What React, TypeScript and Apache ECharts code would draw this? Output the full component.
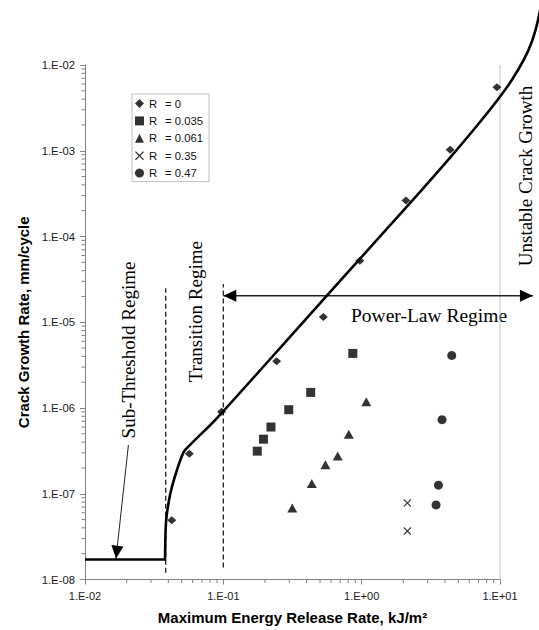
import React, { useEffect, useRef } from 'react';
import * as echarts from 'echarts';

// ---- data ----
const r0X = [0.0424, 0.0568, 0.097, 0.243, 0.528, 0.97, 2.09, 4.36, 9.5];
const r0Y = [4.9e-8, 2.92e-7, 9.06e-7, 3.5e-6, 1.15e-5, 5.2e-5, 2.63e-4, 1.03e-3, 5.5e-3];
const r035X = [0.176, 0.195, 0.221, 0.297, 0.428, 0.863];
const r035Y = [3.14e-7, 4.33e-7, 6.0e-7, 9.55e-7, 1.52e-6, 4.33e-6];
const r061X = [0.315, 0.436, 0.547, 0.671, 0.807, 1.08];
const r061Y = [6.8e-8, 1.32e-7, 2.18e-7, 2.75e-7, 4.94e-7, 1.18e-6];
const r35X = [2.14, 2.14];
const r35Y = [7.8e-8, 3.67e-8];
const r47X = [4.48, 3.81, 3.59, 3.45];
const r47Y = [4.1e-6, 7.3e-7, 1.26e-7, 7.4e-8];

const legendNames = ['0', '0.035', '0.061', '0.35', '0.47'];

// fitted curve
const flatX = [0.01, 0.0379];
const flatY = [1.71e-8, 1.71e-8];
const fitX = [0.0379, 0.0383, 0.039, 0.0412, 0.0447, 0.05, 0.0528, 0.0896, 0.3587, 1.519, 2.644, 4.357, 6.607, 9.53, 12.24, 14.94, 16.79, 18.24, 19.17, 19.83];
const fitY = [1.71e-8, 4.0e-8, 5.72e-8, 9.76e-8, 1.6e-7, 2.72e-7, 3.22e-7, 7.57e-7, 9.16e-6, 1.225e-4, 3.32e-4, 8.31e-4, 1.844e-3, 3.86e-3, 6.77e-3, 1.168e-2, 1.78e-2, 2.71e-2, 3.83e-2, 5.14e-2];

// regime boundaries (dashed)
const dash1X = [0.0383, 0.0383];
const dash1Y = [1.2e-8, 2.5e-5];
const dash2X = [0.1, 0.1];
const dash2Y = [1.38e-8, 2.8e-5];

// arrows [x1, y1, x2, y2]
const powerLawArrow = [0.1, 2.04e-5, 17.3, 2.04e-5];
const subThresholdArrow = [0.0206, 3.7e-7, 0.01675, 1.75e-8];

// axis ticks
const xMin = 0.01, xMax = 10, yMin = 1e-8, yMax = 1e-2;
const xDecades = [0.01, 0.1, 1];
const yDecades = [1e-8, 1e-7, 1e-6, 1e-5, 1e-4, 1e-3];
const minorMult = [2, 3, 4, 5, 6, 7, 8, 9];

const AXIS_COLOR = '#808080';
const SANS = '"Liberation Sans", Arial, sans-serif';
const SERIF = '"Liberation Serif", "Times New Roman", serif';

const crossPath = 'path://M0,1L1,0L5,4L9,0L10,1L6,5L10,9L9,10L5,6L1,10L0,9L4,5Z';

function zip(xs: number[], ys: number[]) {
  return xs.map((x, i) => [x, ys[i]]);
}

function fmtExp(v: number) {
  const e = Math.round(Math.log10(v));
  const s = e < 0 ? '-' : '+';
  const a = Math.abs(e);
  return '1.E' + s + (a < 10 ? '0' + a : String(a));
}

function head(tip: number[], from: number[], L: number, W: number) {
  const dx = tip[0] - from[0];
  const dy = tip[1] - from[1];
  const len = Math.hypot(dx, dy) || 1;
  const ux = dx / len, uy = dy / len;
  const bx = tip[0] - ux * L, by = tip[1] - uy * L;
  const nx = -uy, ny = ux;
  return {
    type: 'polygon',
    shape: { points: [[tip[0], tip[1]], [bx + nx * W, by + ny * W], [bx - nx * W, by - ny * W]] },
    style: { fill: '#000' },
  };
}

export default function App() {
  const ref = useRef<HTMLDivElement>(null);
  useEffect(() => {
    if (!ref.current) return;
    const chart = echarts.init(ref.current, undefined, { renderer: 'svg' });

    const yMinor: number[][] = [];
    yDecades.forEach((d) => minorMult.forEach((k) => yMinor.push([xMin, k * d])));
    const xMinor: number[][] = [];
    xDecades.forEach((d) => minorMult.forEach((k) => xMinor.push([k * d, yMin])));

    const scatterBase = (name: string, data: number[][], symbol: string, size: any) => ({
      type: 'scatter',
      name,
      data,
      symbol,
      symbolSize: size,
      itemStyle: { color: '#000' },
      z: 5,
    });

    const option: any = {
      animation: false,
      backgroundColor: '#fff',
      grid: { left: 85, right: 39, top: 65, bottom: 48, containLabel: false },
      legend: {
        data: legendNames.map((n) => 'R = ' + n),
        orient: 'vertical',
        left: 132,
        top: 94,
        padding: [4, 6, 3, 3],
        itemWidth: 9,
        itemHeight: 9,
        itemGap: 6.4,
        borderColor: '#c0c0c0',
        borderWidth: 1,
        backgroundColor: '#fff',
        formatter: (name: string) => '{r|R}{v|' + name.replace('R ', '') + '}',
        textStyle: {
          fontFamily: SANS,
          fontSize: 11.3,
          color: '#111',
          rich: {
            r: { width: 16, fontFamily: SANS, fontSize: 11.3, color: '#111' },
            v: { fontFamily: SANS, fontSize: 11.3, color: '#111' },
          },
        },
      },
      xAxis: {
        type: 'log',
        logBase: 10,
        min: xMin,
        max: xMax,
        splitNumber: 3,
        name: 'Maximum Energy Release Rate, kJ/m²',
        nameLocation: 'middle',
        nameGap: 30.5,
        nameTextStyle: { fontFamily: SANS, fontWeight: 'bold', fontSize: 15, color: '#000' },
        axisLine: { lineStyle: { color: AXIS_COLOR, width: 1 } },
        axisTick: { show: true, length: 5, lineStyle: { color: AXIS_COLOR } },
        splitLine: { show: false },
        axisLabel: { formatter: fmtExp, fontFamily: SANS, fontSize: 11, color: '#1a1a1a', margin: 11 },
      },
      yAxis: {
        type: 'log',
        logBase: 10,
        min: yMin,
        max: yMax,
        splitNumber: 6,
        name: 'Crack Growth Rate, mm/cycle',
        nameLocation: 'middle',
        nameGap: 42,
        nameTextStyle: { fontFamily: SANS, fontWeight: 'bold', fontSize: 15, color: '#000' },
        axisLine: { lineStyle: { color: AXIS_COLOR, width: 1 } },
        axisTick: { show: true, length: 5, lineStyle: { color: AXIS_COLOR } },
        splitLine: { show: false },
        axisLabel: { formatter: fmtExp, fontFamily: SANS, fontSize: 11.3, color: '#1a1a1a', margin: 10 },
      },
      graphic: [
        {
          type: 'text', x: 128.5, y: 350, rotation: Math.PI / 2,
          style: { text: 'Sub-Threshold Regime', fontFamily: SERIF, fontSize: 19, fill: '#000', align: 'center', verticalAlign: 'middle', textAlign: 'center', textVerticalAlign: 'middle' },
        },
        {
          type: 'text', x: 195, y: 311.7, rotation: Math.PI / 2,
          style: { text: 'Transition Regime', fontFamily: SERIF, fontSize: 19, fill: '#000', align: 'center', verticalAlign: 'middle', textAlign: 'center', textVerticalAlign: 'middle' },
        },
        {
          type: 'text', x: 429, y: 315,
          style: { text: 'Power-Law Regime', fontFamily: SERIF, fontSize: 19.5, fill: '#000', align: 'center', verticalAlign: 'middle', textAlign: 'center', textVerticalAlign: 'middle' },
        },
        {
          type: 'text', x: 525, y: 176, rotation: Math.PI / 2,
          style: { text: 'Unstable Crack Growth', fontFamily: SERIF, fontSize: 19, fill: '#000', align: 'center', verticalAlign: 'middle', textAlign: 'center', textVerticalAlign: 'middle' },
        },
      ],
      series: [
        // right border of plot area
        {
          type: 'line', name: 'border', data: [[xMax, yMin], [xMax, yMax]], symbol: 'none',
          lineStyle: { color: '#c4c4c4', width: 1 }, silent: true, z: 1,
        },
        // minor ticks
        {
          type: 'custom', name: 'yminor', data: yMinor, silent: true, clip: false,
          renderItem: (params: any, api: any) => {
            const p = api.coord([api.value(0), api.value(1)]);
            return { type: 'line', shape: { x1: p[0] - 3.5, y1: p[1], x2: p[0], y2: p[1] }, style: { stroke: AXIS_COLOR, lineWidth: 1 } };
          },
        },
        {
          type: 'custom', name: 'xminor', data: xMinor, silent: true, clip: false,
          renderItem: (params: any, api: any) => {
            const p = api.coord([api.value(0), api.value(1)]);
            return { type: 'line', shape: { x1: p[0], y1: p[1], x2: p[0], y2: p[1] + 3.5 }, style: { stroke: AXIS_COLOR, lineWidth: 1 } };
          },
        },
        // dashed regime boundaries
        {
          type: 'line', name: 'dash1', data: zip(dash1X, dash1Y), symbol: 'none', silent: true,
          lineStyle: { color: '#222', width: 1.3, type: [5, 3] }, z: 2,
        },
        {
          type: 'line', name: 'dash2', data: zip(dash2X, dash2Y), symbol: 'none', silent: true,
          lineStyle: { color: '#222', width: 1.3, type: [5, 3] }, z: 2,
        },
        // arrows
        {
          type: 'custom', name: 'arrows', silent: true, clip: false, z: 3,
          data: [powerLawArrow, subThresholdArrow],
          encode: { x: [0, 2], y: [1, 3] },
          renderItem: (params: any, api: any) => {
            const p1 = api.coord([api.value(0), api.value(1)]);
            const p2 = api.coord([api.value(2), api.value(3)]);
            const children: any[] = [
              { type: 'line', shape: { x1: p1[0], y1: p1[1], x2: p2[0], y2: p2[1] }, style: { stroke: '#222', lineWidth: params.dataIndex === 0 ? 1.4 : 1 } },
            ];
            if (params.dataIndex === 0) {
              children.push(head(p1, p2, 13, 6));
              children.push(head(p2, p1, 13, 6));
            } else {
              children.push(head(p2, p1, 13, 6));
            }
            return { type: 'group', children };
          },
        },
        // fitted curve: flat threshold part
        {
          type: 'line', name: 'fitFlat', data: zip(flatX, flatY), symbol: 'none', silent: true,
          lineStyle: { color: '#000', width: 2.6 }, z: 4,
        },
        // fitted curve: rising part (drawn as one smooth polyline, may run past the plot edge)
        {
          type: 'custom', name: 'fit', silent: true, clip: false, z: 4,
          data: zip(fitX, fitY),
          renderItem: (params: any, api: any) => {
            if (params.dataIndex !== 0) return null;
            const n = params.dataInsideLength;
            const pts: number[][] = [];
            for (let i = 0; i < n; i++) {
              pts.push(api.coord([api.value(0, i), api.value(1, i)]));
            }
            return {
              type: 'polyline',
              shape: { points: pts, smooth: 0.3 },
              style: { stroke: '#000', lineWidth: 2.6, fill: 'none', lineJoin: 'round', lineCap: 'round' },
            };
          },
        },
        scatterBase('R = 0', zip(r0X, r0Y), 'diamond', [9, 8]),
        scatterBase('R = 0.035', zip(r035X, r035Y), 'rect', 9),
        scatterBase('R = 0.061', zip(r061X, r061Y), 'triangle', [10, 9]),
        scatterBase('R = 0.35', zip(r35X, r35Y), crossPath, 8),
        scatterBase('R = 0.47', zip(r47X, r47Y), 'circle', 9),
      ],
    };
    chart.setOption(option);
    return () => chart.dispose();
  }, []);

  return (
    <div
      ref={ref}
      style={{ position: 'absolute', left: 0, top: 0, width: 539, height: 630, background: '#fff' }}
    />
  );
}
